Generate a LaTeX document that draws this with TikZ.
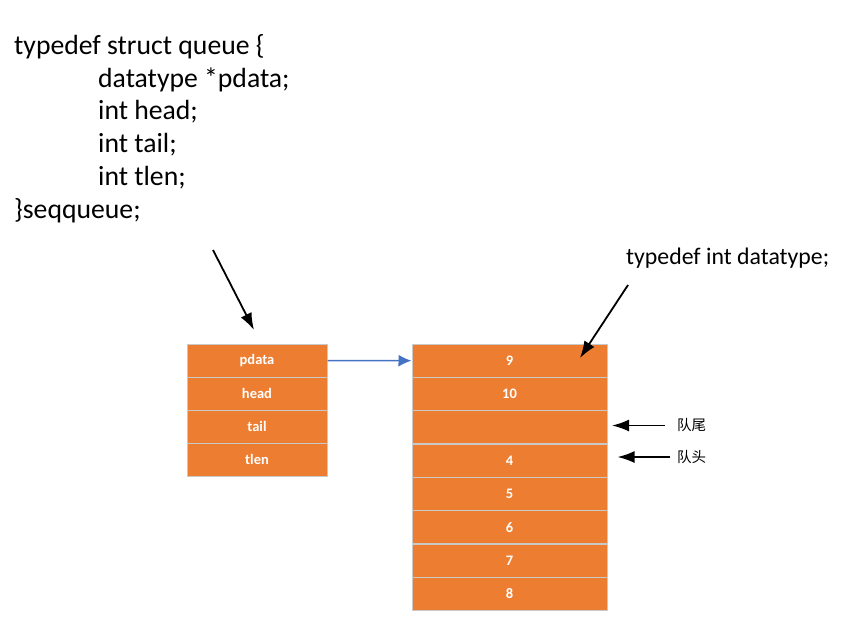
\documentclass[tikz,border=0pt]{standalone}
\usepackage{fontspec}
\setmainfont{Carlito}
\newfontfamily\cjk{Noto Sans CJK SC}
\usetikzlibrary{arrows.meta}
\definecolor{cellorange}{HTML}{ED7D31}
\definecolor{cellborder}{HTML}{C9C9C9}
\definecolor{linkblue}{HTML}{4472C4}
\tikzset{
  cellbox/.style={draw=cellborder, fill=cellorange, line width=1pt, inner sep=0pt,
    text=white, font=\bfseries\fontsize{14.5}{17}\selectfont},
  leftcell/.style={cellbox, minimum width=140pt, minimum height=33pt},
  rightcell/.style={cellbox, minimum width=195pt, minimum height=33.33pt},
  blackarrow/.style={-{Latex[length=17pt,width=12pt]}, line width=1.8pt, black},
  bluearrow/.style={-{Latex[length=13pt,width=12pt]}, line width=1.5pt, linkblue},
  codetext/.style={anchor=base west, inner sep=0pt, font=\fontsize{27.7}{32}\selectfont},
  cnlabel/.style={anchor=west, inner sep=0pt, font=\cjk\fontsize{14.5}{16}\selectfont}
}
\begin{document}
\begin{tikzpicture}[x=1pt,y=-1pt]
\useasboundingbox (0,0) rectangle (851,633);
% code text
\node[codetext] (l1) at (14,54) {typedef struct queue \{};
\node[codetext] (l2) at (98,87) {datatype *pdata;};
\node[codetext] (l3) at (98,119.5) {int head;};
\node[codetext] (l4) at (98,152) {int tail;};
\node[codetext] (l5) at (98,185) {int tlen;};
\node[codetext] (l6) at (14,218) {\}seqqueue;};
\node[anchor=base west, inner sep=0pt, font=\fontsize{23.8}{28}\selectfont] (dt) at (626,264) {typedef int datatype;};
% left struct
\node[leftcell] (p) at (257,360.5) {pdata};
\node[leftcell] (h) at (257,393.5) {head};
\node[leftcell] (t) at (257,426.5) {tail};
\node[leftcell] (n) at (257,459.5) {tlen};
% right array
\node[rightcell] (c1) at (509.5,360.7) {9};
\node[rightcell] (c2) at (509.5,394) {10};
\node[rightcell] (c3) at (509.5,427.3) {};
\node[rightcell] (c4) at (509.5,460.7) {4};
\node[rightcell] (c5) at (509.5,494) {5};
\node[rightcell] (c6) at (509.5,527.3) {6};
\node[rightcell] (c7) at (509.5,560.7) {7};
\node[rightcell] (c8) at (509.5,594) {8};
% labels
\node[cnlabel] (tail) at (677,425.5) {队尾};
\node[cnlabel] (head) at (677,457) {队头};
% arrows
\coordinate (a1s) at (213,250);
\coordinate (a1e) at (254,330);
\coordinate (a2s) at (628,285);
\coordinate (a2e) at (580,358);
\draw[blackarrow] (a1s) -- (a1e);
\draw[blackarrow] (a2s) -- (a2e);
\draw[bluearrow] (p.east) -- (c1.west);
\draw[blackarrow] ([xshift=-12pt]tail.west) -- ([xshift=4.5pt]c3.east |- tail.west);
\draw[blackarrow] ([xshift=-7pt]head.west) -- ([xshift=10pt]c4.east |- head.west);
\end{tikzpicture}
\end{document}
